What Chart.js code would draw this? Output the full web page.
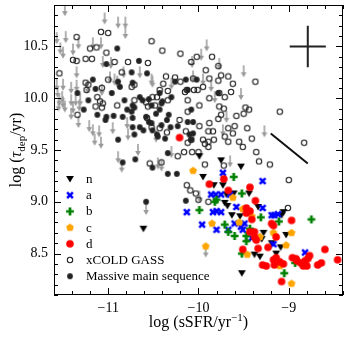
<!DOCTYPE html>
<html>
<head>
<meta charset="utf-8">
<script src="https://cdn.jsdelivr.net/npm/chart.js@4.4.1/dist/chart.umd.min.js"></script>
<style>
    html, body { margin: 0; padding: 0; background: #fff; }
    #wrap { width: 350px; height: 340px; }
</style>
</head>
<body>
<div id="wrap"><canvas id="chart" width="350" height="340"></canvas></div>
<script>
// Axis ranges and tick labels
const xRange = [-11.6, -8.4];
const yRange = [8.1, 10.9];
const xTicks = [-11, -10, -9];
const yTicks = [8.5, 9.0, 9.5, 10.0, 10.5];

// Legend labels (top to bottom)
const legendLabels = ['n', 'a', 'b', 'c', 'd', 'xCOLD GASS', 'Massive main sequence'];

// Series: [log sSFR, log tau_dep]
const nPts = [[-9.99,9.44],[-9.75,9.40],[-9.53,9.34],[-9.95,9.24],[-9.83,9.16],[-9.73,9.16],[-9.69,9.07],[-9.61,9.08],
    [-9.44,9.08],[-9.71,8.99],[-9.68,8.96],[-9.63,8.87],[-9.54,8.86],[-9.34,8.95],[-9.06,8.90],[-9.08,8.87],
    [-9.28,8.70],[-9.03,8.68],[-9.19,8.60],[-9.09,8.56],[-9.38,8.49],[-9.32,8.47],[-9.14,8.50],[-9.52,8.31],
    [-10.61,8.74],[-9.30,8.64]];

const aPts = [[-9.73,9.28],[-9.29,9.20],[-9.86,9.07],[-9.81,9.07],[-9.75,9.07],[-9.65,9.07],[-10.13,8.90],[-9.84,8.90],
    [-9.80,8.91],[-9.75,8.90],[-9.58,8.95],[-9.96,8.78],[-9.80,8.73],[-9.67,8.73],[-9.60,8.79],[-9.53,8.76],
    [-9.49,8.79],[-9.51,8.73],[-9.29,8.94],[-9.19,8.87],[-9.16,8.87],[-9.12,8.88],[-9.17,8.59],[-9.41,8.65],
    [-8.82,8.51]];

const bPts = [[-9.61,9.24],[-9.52,9.08],[-9.82,9.00],[-9.99,8.92],[-9.71,8.78],[-9.67,8.71],[-9.60,8.67],[-9.47,8.67],
    [-9.43,8.74],[-9.31,8.85],[-9.11,8.81],[-8.75,8.83],[-9.52,8.50],[-9.47,8.62],[-9.05,8.31],[-8.93,8.41],
    [-9.80,9.02]];

const cPts = [[-10.06,9.30],[-9.62,9.04],[-9.51,8.93],[-9.41,8.86],[-9.55,8.80],[-9.85,8.79],[-9.17,8.70],[-8.97,8.70],
    [-9.03,8.58],[-9.46,8.49],[-9.10,8.38],[-8.97,8.21],[-9.92,8.57],[-9.32,8.66]];

const dPts = [[-10.21,9.62],[-9.88,9.17],[-9.72,9.22],[-9.67,9.11],[-9.43,9.14],[-9.37,9.01],[-9.47,8.94],[-9.43,8.91],
    [-9.47,8.89],[-9.41,8.83],[-9.38,8.66],[-9.43,8.71],[-9.19,8.79],[-9.17,8.77],[-9.14,8.66],[-8.97,8.82],
    [-9.36,8.63],[-9.51,8.54],[-9.34,8.55],[-9.23,8.56],[-9.17,8.44],[-9.14,8.46],[-9.10,8.42],[-9.29,8.39],
    [-9.25,8.38],[-9.16,8.39],[-9.06,8.40],[-8.96,8.46],[-8.92,8.45],[-8.91,8.43],[-8.87,8.41],[-8.82,8.43],
    [-8.79,8.45],[-8.77,8.48],[-8.84,8.38],[-8.80,8.38],[-8.68,8.39],[-8.64,8.41],[-8.60,8.54],[-8.46,8.44],
    [-9.08,8.23],[-9.38,8.71]];

const xcoldPts = [[-11.54,10.24],[-11.35,10.59],[-11.08,10.64],[-11.00,10.63],[-11.20,10.48],[-11.13,10.49],[-11.02,10.44],
    [-10.52,10.55],[-10.40,10.46],[-11.39,10.37],[-11.35,10.36],[-11.25,10.38],[-11.18,10.38],[-10.93,10.35],
    [-10.78,10.35],[-10.56,10.34],[-10.85,10.25],[-11.00,10.18],[-11.25,10.15],[-11.22,10.13],[-11.07,10.10],
    [-10.74,10.11],[-11.24,10.08],[-11.12,10.01],[-11.14,9.92],[-11.06,9.95],[-11.07,9.91],[-10.90,9.93],
    [-11.34,9.84],[-10.71,9.98],[-10.51,10.01],[-10.46,10.01],[-10.58,9.96],[-10.56,9.92],[-10.48,9.93],
    [-10.34,9.98],[-10.57,9.81],[-10.52,9.72],[-10.43,9.71],[-10.35,9.67],[-10.54,9.37],[-10.41,9.38],
    [-11.09,9.97],[-10.71,10.13],
    [-10.20,10.43],[-10.02,10.40],[-10.08,10.35],[-9.85,10.40],[-9.78,10.31],[-9.92,10.27],[-9.75,10.22],
    [-9.67,10.21],[-10.36,10.21],[-10.39,10.14],[-10.26,10.20],[-10.20,10.16],[-10.13,10.08],[-10.06,10.19],
    [-9.88,10.19],[-9.78,10.17],[-9.62,10.14],[-9.95,10.11],[-10.43,10.08],[-10.34,10.07],[-10.15,10.06],
    [-9.37,10.16],[-9.10,9.87],[-8.83,9.57],[-9.21,9.36],[-9.33,9.39],[-9.36,9.48],[-9.46,9.71],[-9.44,9.89],
    [-9.48,9.91],[-9.50,9.85],[-9.58,9.83],[-9.60,9.73],[-9.67,9.71],[-9.62,9.66],[-9.71,9.63],[-9.83,9.60],
    [-9.89,9.58],[-9.95,9.60],[-9.93,9.56],[-9.89,9.53],[-10.08,9.60],[-10.12,9.57],[-10.07,9.48],[-10.16,9.48],
    [-10.00,9.48],[-10.23,9.44],[-9.93,9.36],[-9.72,9.35],[-9.67,9.58],[-9.55,9.58],[-9.51,9.53],[-9.41,9.61],
    [-9.84,9.68],[-9.77,9.92],[-9.72,9.90],[-9.75,9.84],[-9.78,9.80],[-9.88,9.76],[-9.99,9.93],[-10.12,9.87],
    [-10.21,9.79],[-10.14,9.68],[-9.99,9.73],[-9.89,9.68],[-10.01,10.08],[-9.88,10.00],[-9.77,10.05],[-9.71,10.01],
    [-9.64,10.06],[-10.12,9.98],[-10.05,10.08],[-10.13,9.16],[-10.09,9.11],[-10.03,9.08],[-10.00,9.02],[-9.89,9.00],
    [-9.00,9.21],[-9.01,8.94]];

const massivePts = [[-11.02,10.33],[-10.90,10.48],[-10.66,10.36],[-10.74,10.25],[-10.57,10.24],[-11.17,10.18],[-10.87,10.11],
    [-10.73,10.15],[-11.14,10.09],[-11.34,10.05],[-11.22,9.98],[-11.27,9.89],[-11.12,9.84],[-11.02,9.82],[-11.03,9.79],
    [-10.82,9.98],[-10.79,9.89],[-10.65,10.01],[-10.62,9.98],[-10.55,9.99],[-10.52,9.93],[-10.73,9.93],[-10.71,9.91],
    [-10.94,9.83],[-10.84,9.82],[-10.74,9.87],[-10.73,9.81],[-10.58,9.82],[-10.55,9.77],[-10.43,10.05],[-10.40,9.97],
    [-10.33,9.84],[-10.43,9.89],[-10.35,9.79],[-10.31,9.72],[-10.41,9.74],[-10.51,9.69],[-10.46,9.65],[-10.65,9.72],
    [-10.73,9.72],[-10.71,9.65],[-10.89,9.60],[-10.61,9.69],[-10.84,9.38],[-10.70,9.41],[-10.51,9.33],[-10.34,9.47],
    [-10.26,10.16],[-10.12,10.08],[-10.02,10.18],[-10.14,10.18],[-9.78,10.05],[-10.30,10.01],[-10.08,9.89],[-10.12,9.77],
    [-10.06,9.77],[-10.23,9.73],[-10.06,9.66],[-10.52,9.76],[-10.45,9.63],[-10.37,9.61],[-10.10,9.65],[-10.08,9.60],
    [-10.47,9.85],[-10.41,9.95],[-10.34,9.27],[-10.24,9.27],[-10.14,9.01],[-10.58,9.00],[-10.89,10.16],[-10.96,10.05]];

// Upper limits (grey arrows)
const limitPts = [[-11.48,10.85],[-11.04,10.77],[-10.89,10.73],[-10.81,10.73],[-10.81,10.63],[-11.57,10.58],[-11.47,10.59],
    [-11.33,10.53],[-11.53,10.48],[-11.39,10.47],[-11.17,10.53],[-11.08,10.53],[-11.50,10.44],[-11.06,10.35],[-10.97,10.34],
    [-11.35,10.25],[-10.98,10.20],[-10.93,10.18],[-10.83,10.25],[-10.65,10.25],[-10.52,10.18],[-11.50,10.13],[-11.57,10.13],
    [-11.56,10.06],[-11.51,10.01],[-11.54,9.98],[-11.50,9.96],[-11.55,9.93],[-11.48,9.92],[-11.41,10.10],[-11.41,9.98],
    [-11.39,9.91],[-11.35,10.12],[-11.36,9.98],[-11.31,9.98],[-11.32,9.93],[-11.23,10.10],[-11.07,10.08],[-10.90,10.16],
    [-11.41,9.85],[-11.33,9.77],[-11.21,9.73],[-11.17,9.69],[-11.10,9.68],[-11.15,9.60],[-11.08,9.57],[-10.95,9.71],
    [-10.78,9.65],[-10.67,9.50],[-10.89,9.43],[-10.85,9.34],[-10.79,9.76],[-9.91,10.51],[-9.97,10.42],[-10.07,10.35],
    [-9.77,10.33],[-9.50,10.26],[-10.06,10.21],[-9.95,10.18],[-9.86,10.12],[-9.53,10.04],[-9.82,10.01],[-9.69,9.82],
    [-9.73,9.69],[-9.27,9.68],[-9.65,9.39],[-10.51,10.16],[-10.30,10.14],[-9.99,9.05],[-9.92,8.52],[-10.47,9.63],
    [-10.45,9.37],[-10.41,9.35],[-10.30,9.48],[-10.58,8.93]];

// Typical error bar and slope guide
const errCenter = [-8.79, 10.50];
const errSize = [0.2, 0.2];
const slopeLine = [[-9.20, 9.66], [-8.79, 9.37]];

const serif = "'Liberation Serif', 'Times New Roman', serif";

// Marker images
function marker(w, h, draw) {
    const c = document.createElement('canvas');
    c.width = w;
    c.height = h;
    const g = c.getContext('2d');
    g.translate(w / 2, h / 2);
    draw(g);
    return c;
}

const openCircle = marker(8, 8, g => {
    g.beginPath(); g.arc(0, 0, 2.7, 0, Math.PI * 2);
    g.strokeStyle = '#222'; g.lineWidth = 1.1; g.stroke();
});
const blackDot = marker(8, 8, g => {
    g.beginPath(); g.arc(0, 0, 2.9, 0, Math.PI * 2);
    g.fillStyle = '#222'; g.fill();
});
const redDot = marker(10, 10, g => {
    g.beginPath(); g.arc(0, 0, 3.8, 0, Math.PI * 2);
    g.fillStyle = '#ff0000'; g.fill();
});
const triDown = marker(10, 10, g => {
    g.beginPath(); g.moveTo(-3.9, -3); g.lineTo(3.9, -3); g.lineTo(0, 3.6); g.closePath();
    g.fillStyle = '#000'; g.fill();
});
const blueX = marker(10, 10, g => {
    g.strokeStyle = '#0000ff'; g.lineWidth = 2.6;
    g.beginPath(); g.moveTo(-2.9, -2.9); g.lineTo(2.9, 2.9); g.moveTo(-2.9, 2.9); g.lineTo(2.9, -2.9); g.stroke();
});
const greenPlus = marker(10, 10, g => {
    g.strokeStyle = '#008000'; g.lineWidth = 2.7;
    g.beginPath(); g.moveTo(-3.9, 0); g.lineTo(3.9, 0); g.moveTo(0, -3.9); g.lineTo(0, 3.9); g.stroke();
});
const orangePent = marker(10, 10, g => {
    g.beginPath();
    for (let i = 0; i < 5; i++) {
        const a = -Math.PI / 2 + i * 2 * Math.PI / 5;
        g.lineTo(4.1 * Math.cos(a), 4.1 * Math.sin(a));
    }
    g.closePath(); g.fillStyle = '#ffa500'; g.fill();
});
const grayArrow = marker(8, 14, g => {
    g.strokeStyle = '#999'; g.fillStyle = '#999'; g.lineWidth = 1.5;
    g.beginPath(); g.moveTo(0, -6); g.lineTo(0, 2); g.stroke();
    g.beginPath(); g.moveTo(-2.8, 1); g.lineTo(2.8, 1); g.lineTo(0, 6); g.closePath(); g.fill();
});

const legendMarkers = [triDown, blueX, greenPlus, orangePent, redDot, openCircle, blackDot];

function pts(arr) {
    return arr.map(p => ({ x: p[0], y: p[1] }));
}

function scatterSet(label, arr, img, order) {
    return { label: label, data: pts(arr), pointStyle: img, pointRadius: 3, order: order };
}

const datasets = [
    scatterSet('d', dPts, redDot, 1),
    scatterSet('c', cPts, orangePent, 2),
    scatterSet('b', bPts, greenPlus, 3),
    scatterSet('a', aPts, blueX, 4),
    scatterSet('n', nPts, triDown, 5),
    scatterSet('Massive main sequence', massivePts, blackDot, 6),
    scatterSet('xCOLD GASS', xcoldPts, openCircle, 7),
    scatterSet('limits', limitPts, grayArrow, 8),
    {
        label: 'slope', data: pts(slopeLine), showLine: true, pointRadius: 0,
        borderColor: '#111', borderWidth: 2, order: 0
    }
];

// Frame, inward ticks, error cross, legend and axis titles
const decorPlugin = {
    id: 'decor',
    afterDraw(chart) {
        const ctx = chart.ctx;
        const a = chart.chartArea;
        const xs = chart.scales.x, ys = chart.scales.y;
        ctx.save();
        ctx.strokeStyle = '#000';
        ctx.lineWidth = 1;
        ctx.strokeRect(Math.round(a.left) + 0.5, Math.round(a.top) + 0.5,
            Math.round(a.right - a.left) - 1, Math.round(a.bottom - a.top) - 1);

        // x ticks every 0.2, major at integers
        ctx.beginPath();
        for (let v = -11.6; v <= -8.4 + 1e-6; v += 0.2) {
            const px = Math.round(xs.getPixelForValue(v)) + 0.5;
            const major = Math.abs(v - Math.round(v)) < 1e-6;
            const len = major ? 7 : 4;
            ctx.moveTo(px, a.bottom); ctx.lineTo(px, a.bottom - len);
            ctx.moveTo(px, a.top); ctx.lineTo(px, a.top + len);
        }
        // y ticks every 0.1, major every 0.5
        for (let i = 81; i <= 109; i++) {
            const v = i / 10;
            const py = Math.round(ys.getPixelForValue(v)) + 0.5;
            const major = i % 5 === 0;
            const len = major ? 7 : 4;
            ctx.moveTo(a.left, py); ctx.lineTo(a.left + len, py);
            ctx.moveTo(a.right, py); ctx.lineTo(a.right - len, py);
        }
        ctx.stroke();

        // typical error cross
        const cx = xs.getPixelForValue(errCenter[0]);
        const cy = ys.getPixelForValue(errCenter[1]);
        ctx.strokeStyle = '#222';
        ctx.lineWidth = 2;
        ctx.beginPath();
        ctx.moveTo(xs.getPixelForValue(errCenter[0] - errSize[0]), cy);
        ctx.lineTo(xs.getPixelForValue(errCenter[0] + errSize[0]), cy);
        ctx.moveTo(cx, ys.getPixelForValue(errCenter[1] - errSize[1]));
        ctx.lineTo(cx, ys.getPixelForValue(errCenter[1] + errSize[1]));
        ctx.stroke();

        // legend inside the plot
        ctx.fillStyle = '#000';
        ctx.font = '13px ' + serif;
        ctx.textBaseline = 'middle';
        ctx.textAlign = 'left';
        legendLabels.forEach((lab, i) => {
            const y = a.top + 174 + i * 16.2;
            const img = legendMarkers[i];
            ctx.drawImage(img, a.left + 16 - img.width / 2, y - img.height / 2);
            ctx.fillText(lab, a.left + 32, y + 0.5);
        });

        // x title
        const xParts = [
            { t: 'log (sSFR/yr', f: '16px ' + serif, dy: 0 },
            { t: '\u22121', f: '11px ' + serif, dy: -6 },
            { t: ')', f: '16px ' + serif, dy: 0 }
        ];
        drawParts(ctx, xParts, (a.left + a.right) / 2, 327);

        // y title (rotated)
        ctx.save();
        ctx.translate(21, (a.top + a.bottom) / 2);
        ctx.rotate(-Math.PI / 2);
        const yParts = [
            { t: 'log (', f: '16px ' + serif, dy: 0 },
            { t: '\u03c4', f: 'italic 16px ' + serif, dy: 0 },
            { t: 'dep', f: '11px ' + serif, dy: 4 },
            { t: '/yr)', f: '16px ' + serif, dy: 0 }
        ];
        drawParts(ctx, yParts, 0, 0);
        ctx.restore();
        ctx.restore();
    }
};

function drawParts(ctx, parts, cx, baseY) {
    let total = 0;
    parts.forEach(p => { ctx.font = p.f; p.w = ctx.measureText(p.t).width; total += p.w; });
    let x = cx - total / 2;
    ctx.textBaseline = 'alphabetic';
    ctx.textAlign = 'left';
    ctx.fillStyle = '#000';
    parts.forEach(p => { ctx.font = p.f; ctx.fillText(p.t, x, baseY + p.dy); x += p.w; });
}

const ctx = document.getElementById('chart').getContext('2d');
new Chart(ctx, {
    type: 'scatter',
    data: { datasets: datasets },
    options: {
        responsive: false,
        animation: false,
        devicePixelRatio: 1,
        layout: { padding: { top: 5, right: 7, left: 0, bottom: 0 } },
        plugins: {
            legend: { display: false },
            tooltip: { enabled: false }
        },
        scales: {
            x: {
                type: 'linear',
                min: xRange[0],
                max: xRange[1],
                grid: { display: false, drawTicks: false },
                border: { display: false },
                afterBuildTicks: s => { s.ticks = xTicks.map(v => ({ value: v })); },
                afterFit: s => { s.height = 45; s.paddingLeft = 0; s.paddingRight = 0; },
                ticks: {
                    padding: 5,
                    maxRotation: 0,
                    autoSkip: false,
                    color: '#000',
                    font: { family: serif, size: 14 },
                    callback: v => '\u2212' + Math.abs(v)
                }
            },
            y: {
                type: 'linear',
                min: yRange[0],
                max: yRange[1],
                grid: { display: false, drawTicks: false },
                border: { display: false },
                afterBuildTicks: s => { s.ticks = yTicks.map(v => ({ value: v })); },
                afterFit: s => { s.width = 54; s.paddingTop = 0; s.paddingBottom = 0; },
                ticks: {
                    padding: 6,
                    autoSkip: false,
                    color: '#000',
                    font: { family: serif, size: 14 },
                    callback: v => Number(v).toFixed(1)
                }
            }
        }
    },
    plugins: [decorPlugin]
});
</script>
</body>
</html>
